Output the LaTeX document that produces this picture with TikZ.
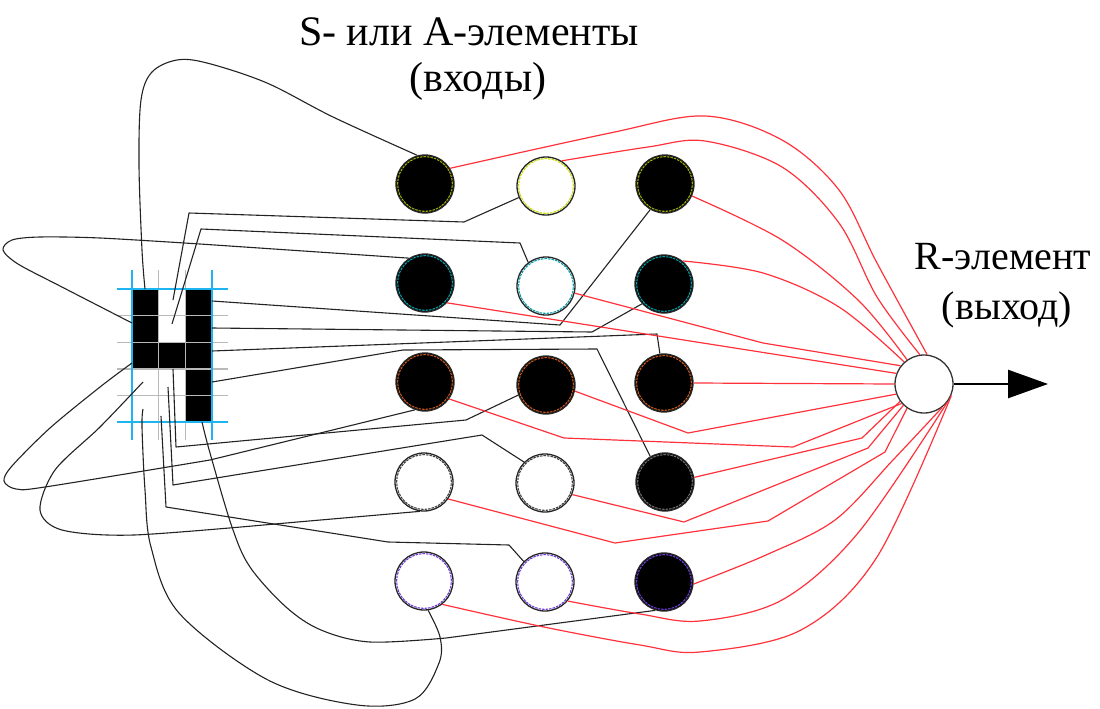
\documentclass[tikz,border=0pt]{standalone}
\usepackage{fontspec}
\setmainfont{Liberation Serif}
\newfontfamily\lserif{Liberation Serif}
\usetikzlibrary{arrows.meta}
\definecolor{ringY}{RGB}{160,175,0}
\definecolor{ringYL}{RGB}{200,220,0}
\definecolor{ringT}{RGB}{0,160,170}
\definecolor{ringB}{RGB}{200,90,30}
\definecolor{ringG}{RGB}{110,110,110}
\definecolor{ringP}{RGB}{110,60,220}
\definecolor{wirecol}{RGB}{35,35,35}
\definecolor{redcol}{RGB}{255,50,60}
\definecolor{gridgray}{RGB}{185,185,185}
\definecolor{gridblue}{RGB}{30,180,240}
\tikzset{
  elem/.style 2 args={circle, draw=black!85, line width=1.3pt, minimum size=58pt, inner sep=0pt, fill=#1,
    path picture={\draw[#2, line width=1.1pt, dash pattern=on 2.5pt off 1pt] (path picture bounding box.center) circle (27.4pt);}},
  relem/.style={circle, draw=black!80, line width=1.3pt, minimum size=58pt, inner sep=0pt, fill=white},
  wire/.style={draw=wirecol, line width=1.1pt, line join=round},
  rwire/.style={draw=redcol, line width=1.2pt, line join=round},
  glines/.style={draw=gridgray, line width=1.4pt},
  blines/.style={draw=gridblue, line width=1.5pt},
  lbl/.style={anchor=base, inner sep=0pt, font=\lserif\fontsize{42}{45}\selectfont},
  rlbl/.style={anchor=base, inner sep=0pt, font=\lserif\fontsize{40}{50}\selectfont},
}
\begin{document}
\begin{tikzpicture}[x=1pt,y=-1pt]
\useasboundingbox (0,0) rectangle (1100,709);
% texts
\node[lbl] (t1) at (469,46) {S- или A-элементы};
\node[lbl] (t2) at (478,91) {(входы)};
\node[rlbl] (t3) at (1003,269) {R-элемент};
\node[rlbl] (t4) at (1007,319) {(выход)};
% grid (letter)
\foreach \c/\r in {1/1,3/1,1/2,3/2,1/3,2/3,3/3,3/4,3/5}
  \fill[black] ({132+(\c-1)*26.667},{289+(\r-1)*26.6}) rectangle ++(26.667,26.6);
\foreach \x in {158.67,185.33} \draw[glines] (\x,270) -- (\x,440);
\foreach \y in {315.6,342.2,368.8,395.4} \draw[glines] (117,\y) -- (228,\y);
\foreach \x in {132,212} \draw[blines] (\x,270) -- (\x,440);
\foreach \y in {289,422} \draw[blines] (117,\y) -- (228,\y);
% start points on the grid
\coordinate (sT) at (145,289);
\coordinate (sA) at (173,300);
\coordinate (sB) at (172,324);
\coordinate (sL0) at (132,323);
\coordinate (sC) at (212,301);
\coordinate (sD) at (212,328);
\coordinate (sE) at (212,351);
\coordinate (sF) at (212,382);
\coordinate (sL1) at (132,363);
\coordinate (sG) at (173,369);
\coordinate (sL2) at (143,382);
\coordinate (sJ) at (168,387);
\coordinate (sH) at (143,409);
\coordinate (sI) at (161,416);
\coordinate (sK) at (202,422);
% elements
\node[elem={black}{ringY}]  (c11) at (425,184) {};
\node[elem={white}{ringYL}] (c12) at (546,186) {};
\node[elem={black}{ringY}]  (c13) at (665,184) {};
\node[elem={black}{ringT}]  (c21) at (425,283) {};
\node[elem={white}{ringT}]  (c22) at (546,286) {};
\node[elem={black}{ringT}]  (c23) at (664,284) {};
\node[elem={black}{ringB}]  (c31) at (425,382) {};
\node[elem={black}{ringB}]  (c32) at (546,385) {};
\node[elem={black}{ringB}]  (c33) at (664,383) {};
\node[elem={white}{black!75}] (c41) at (424,482) {};
\node[elem={white}{black!75}] (c42) at (545,483) {};
\node[elem={black}{ringG}]  (c43) at (665,482) {};
\node[elem={white}{ringP}]  (c51) at (424,581) {};
\node[elem={white}{ringP}]  (c52) at (545,582) {};
\node[elem={black}{ringP}]  (c53) at (664,582) {};
\node[relem] (R) at (924,384) {};
\coordinate (out) at (1048,384);
\draw[line width=2.6pt, -{Triangle[length=40pt,width=28pt]}] (R.east) -- (out);
% black wires
\draw[wire] plot[smooth, tension=0.55] coordinates {(sT) (142,250) (139,165) (141,100) (152,72) (177,60) (207,63) (267,83) (333,117) (c11.105)};
\draw[wire] (sA) -- (189,213) -- (464,222) -- (c12.203);
\draw[wire] (sB) -- (201,229) -- (520,243) -- (c22.127);
\draw[wire] plot[smooth, tension=0.5] coordinates {(sL0) (60,286) (18,264) (3,250) (12,240) (40,237) (100,238) (200,244)} -- (c21.123);
\draw[wire] (sC) -- (560,325) -- (c13.240);
\draw[wire] (sD) -- (592,332) -- (c23.222);
\draw[wire] (sE) -- (657,334) -- (c33.98);
\draw[wire] (sF) -- (403,350) -- (597,349) -- (c43.120);
\draw[wire] plot[smooth, tension=0.5] coordinates {(sL1) (100,387) (50,428) (12,466) (4,481) (16,489) (45,487) (210,460)} -- (c31.250);
\draw[wire] (sG) -- (176,447) -- (466,420) -- (c32.200);
\draw[wire] plot[smooth, tension=0.5] coordinates {(sL2) (100,427) (55,470) (40,510) (62,530) (134,535) (286,523)} -- (c41.262);
\draw[wire] (sJ) -- (173,485) -- (482,435) -- (c42.135);
\draw[wire] plot[smooth, tension=0.55] coordinates {(sH) (142,427) (145,490) (151,547) (179,613) (268,680) (357,705) (415,699) (439,663) (440,637) (c51.278)};
\draw[wire] (sI) -- (166,507) -- (388,542) -- (509,545) -- (c52.136);
\draw[wire] plot[smooth, tension=0.55] coordinates {(sK) (210,453) (232,527) (250,567) (286,607) (321,630) (370,642) (446,638)} -- (c53.253);
% red wires
\draw[rwire] plot[smooth, tension=0.55] coordinates {(c11.32) (610,133) (705,116) (782,140) (839,190) (877,263) (R.84)};
\draw[rwire] plot[smooth, tension=0.55] coordinates {(c12.58) (648,147) (705,141) (782,167) (839,223) (877,297) (R.98)};
\draw[rwire] plot[smooth, tension=0.55] coordinates {(c13.-24) (782,240) (858,300) (R.125)};
\draw[rwire] plot[smooth, tension=0.55] coordinates {(c23.51) (763,273) (839,307) (R.132)};
\draw[rwire] (c22.-14) -- (763,343) -- (R.142);
\draw[rwire] (c21.-42) -- (R.159);
\draw[rwire] (c33.east) -- (R.west);
\draw[rwire] (c32.-12) -- (688,433) -- (R.200);
\draw[rwire] (c31.-35) -- (564,438) -- (793,447) -- (R.221);
\draw[rwire] (c43.9) -- (862,438) -- (R.216);
\draw[rwire] (c42.-23) -- (684,522) -- (868,448) -- (R.226);
\draw[rwire] (c41.-35) -- (615,543) -- (768,521) -- (885,452) -- (R.235);
\draw[rwire] plot[smooth, tension=0.55] coordinates {(c53.-4) (766,555) (835,520) (893,460) (R.-52)};
\draw[rwire] plot[smooth, tension=0.55] coordinates {(c52.-40) (640,614) (700,621) (782,600) (858,533) (R.-38)};
\draw[rwire] plot[smooth, tension=0.55] coordinates {(c51.-52) (544,627) (640,645) (700,652) (801,630) (877,557) (R.-23)};
\end{tikzpicture}
\end{document}
